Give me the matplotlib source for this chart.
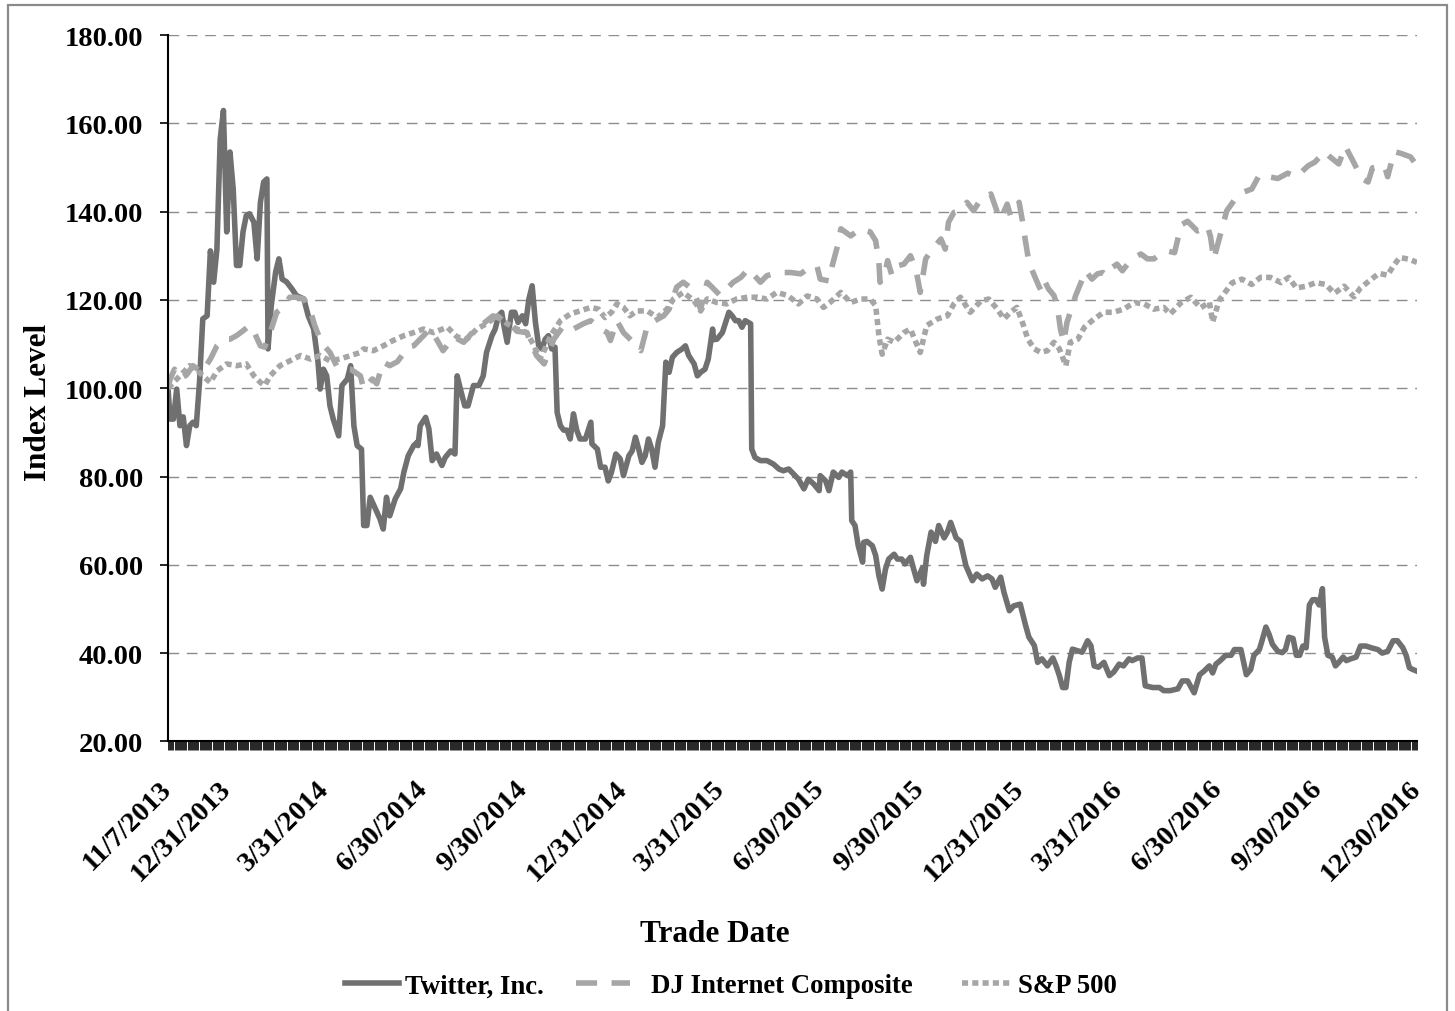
import matplotlib
matplotlib.use("Agg")
import matplotlib.pyplot as plt
from matplotlib.patches import Rectangle
import pandas as pd

# ---- data (index level, 11/7/2013 = 100); x given as calendar days since 11/7/2013
start = pd.Timestamp("2013-11-07")
end = pd.Timestamp("2016-12-30")

tick_dates = ["2013-11-07", "2013-12-31", "2014-03-31", "2014-06-30", "2014-09-30",
              "2014-12-31", "2015-03-31", "2015-06-30", "2015-09-30", "2015-12-31",
              "2016-03-31", "2016-06-30", "2016-09-30", "2016-12-30"]

twitter_day = [0, 2, 5, 8, 11, 14, 17, 20, 23, 26, 29, 32, 36, 39, 42, 45, 48, 51, 54, 57,
               60, 63, 66, 69, 72, 75, 79, 82, 85, 88, 91, 92, 95, 99, 102, 105, 109, 114, 118, 125,
               129, 134, 138, 140, 143, 146, 149, 152, 157, 160, 165, 168, 171, 174, 178, 180, 183, 186, 191, 195,
               198, 201, 204, 209, 214, 217, 221, 226, 229, 230, 232, 237, 240, 243, 247, 252, 255, 260, 264, 266,
               269, 273, 276, 281, 286, 290, 293, 298, 301, 304, 307, 309, 312, 316, 319, 322, 326, 329, 332, 335,
               338, 341, 344, 347, 350, 353, 356, 358, 361, 364, 367, 370, 373, 376, 379, 384, 389, 390, 395, 398,
               402, 405, 408, 412, 416, 419, 424, 427, 430, 433, 436, 439, 442, 445, 448, 451, 455, 458, 461, 464,
               468, 473, 476, 479, 484, 487, 490, 494, 497, 501, 502, 505, 510, 513, 516, 519, 522, 525, 528, 531,
               536, 537, 540, 545, 551, 557, 562, 566, 571, 580, 585, 589, 594, 599, 600, 605, 608, 612, 617, 620,
               625, 628, 629, 632, 635, 639, 640, 643, 648, 651, 654, 657, 660, 663, 668, 671, 675, 678, 683, 686,
               689, 694, 695, 698, 702, 706, 709, 714, 717, 720, 725, 729, 734, 740, 744, 749, 754, 758, 761, 766,
               769, 774, 778, 784, 789, 792, 797, 800, 804, 809, 814, 817, 820, 823, 826, 829, 832, 837, 841, 846,
               849, 852, 856, 861, 866, 870, 875, 879, 884, 887, 892, 896, 899, 906, 912, 916, 922, 929, 933, 938,
               944, 949, 953, 958, 961, 964, 968, 973, 978, 981, 987, 992, 996, 999, 1004, 1007, 1010, 1013, 1016, 1021,
               1025, 1028, 1031, 1035, 1038, 1041, 1044, 1047, 1050, 1053, 1056, 1059, 1062, 1064, 1067, 1071, 1074, 1077, 1081, 1084,
               1088, 1093, 1097, 1102, 1107, 1113, 1117, 1122, 1127, 1131, 1136, 1139, 1142, 1145, 1149]
twitter_val = [100.0, 93.0, 93.0, 99.8, 91.5, 93.5, 87.0, 91.5, 92.3, 91.5, 101.4, 115.7, 116.4, 131.1, 124.0, 131.5, 156.4, 162.9, 135.4, 153.5,
               145.1, 127.8, 127.8, 135.4, 139.1, 139.5, 137.6, 129.3, 142.1, 146.7, 147.4, 108.9, 118.7, 126.3, 129.3, 124.7, 124.1, 122.5, 121.0, 120.2,
               116.4, 113.4, 105.9, 99.8, 104.3, 102.8, 96.0, 93.0, 89.2, 100.6, 102.1, 105.1, 91.5, 87.0, 86.2, 68.9, 68.9, 75.3, 72.6, 70.4,
               68.1, 75.3, 71.1, 74.9, 77.2, 81.0, 84.7, 87.0, 87.7, 87.0, 91.5, 93.4, 90.8, 83.6, 85.1, 82.5, 84.3, 85.8, 85.1, 102.8,
               99.8, 96.0, 96.0, 100.6, 100.6, 102.8, 108.1, 111.9, 113.4, 116.4, 117.2, 114.2, 110.4, 117.2, 117.2, 114.9, 116.4, 114.6, 120.2, 123.2,
               114.9, 109.6, 108.9, 111.1, 111.9, 108.9, 109.3, 94.5, 91.5, 90.5, 90.5, 88.5, 94.2, 90.5, 88.5, 88.5, 92.3, 87.4, 86.2, 82.1,
               82.1, 79.0, 81.0, 85.1, 84.0, 80.2, 84.7, 85.8, 88.9, 86.2, 83.2, 84.7, 88.5, 86.2, 82.1, 87.7, 91.5, 105.9, 103.6, 107.0,
               108.1, 108.9, 109.6, 107.4, 105.5, 102.8, 103.6, 104.3, 106.6, 113.4, 111.0, 111.1, 112.6, 114.9, 117.2, 116.4, 115.3, 115.3, 113.8, 115.3,
               114.6, 86.2, 84.3, 83.6, 83.6, 82.8, 81.7, 81.3, 81.7, 79.4, 77.2, 79.4, 78.3, 76.8, 80.2, 79.0, 76.8, 81.0, 79.8, 81.0,
               80.2, 81.0, 70.0, 68.9, 64.3, 60.6, 65.1, 65.3, 64.3, 62.1, 57.5, 54.5, 59.0, 61.3, 62.4, 61.3, 61.3, 60.2, 61.7, 59.0,
               56.4, 59.3, 55.6, 62.1, 67.4, 65.3, 68.9, 66.1, 67.4, 69.6, 66.1, 65.3, 59.8, 56.4, 57.9, 56.8, 57.5, 56.8, 54.9, 57.2,
               53.8, 49.6, 50.7, 51.1, 46.2, 43.6, 41.7, 37.9, 38.7, 37.1, 38.9, 37.1, 34.9, 32.2, 32.2, 37.9, 40.9, 40.5, 40.2, 42.8,
               41.7, 37.1, 36.8, 37.9, 34.9, 35.7, 37.5, 37.1, 38.7, 38.3, 38.9, 38.9, 32.6, 32.2, 32.2, 31.5, 31.5, 31.9, 33.7, 33.7,
               31.0, 35.1, 35.9, 37.1, 35.5, 37.5, 38.3, 39.5, 39.5, 40.8, 40.8, 35.1, 36.3, 39.5, 40.8, 43.3, 45.9, 44.2, 42.0, 40.4,
               40.1, 40.8, 43.6, 43.3, 39.5, 39.5, 41.6, 41.2, 50.9, 52.1, 52.1, 50.9, 54.6, 43.6, 39.5, 39.1, 37.1, 37.9, 39.1, 38.3,
               38.7, 39.1, 41.6, 41.6, 41.2, 40.8, 40.0, 40.4, 42.8, 42.8, 41.2, 39.5, 36.7, 36.3, 35.9]

dj_day = [0, 2, 6, 11, 17, 23, 31, 39, 45, 51, 57, 63, 69, 75, 80, 85, 89, 94, 100, 106,
          112, 118, 125, 131, 135, 141, 149, 155, 160, 168, 177, 180, 188, 192, 198, 204, 211, 221, 226, 235,
          241, 247, 253, 263, 272, 281, 290, 299, 306, 312, 321, 330, 339, 346, 355, 364, 373, 382, 389, 398,
          404, 407, 413, 419, 428, 435, 441, 448, 456, 461, 468, 474, 482, 485, 490, 496, 502, 508, 514, 520,
          527, 534, 545, 551, 557, 566, 573, 582, 588, 597, 600, 608, 611, 616, 619, 628, 637, 646, 651, 654,
          655, 659, 662, 666, 671, 677, 683, 688, 692, 697, 702, 711, 715, 718, 723, 729, 735, 741, 748, 754,
          757, 763, 766, 772, 775, 783, 786, 789, 792, 797, 801, 804, 807, 810, 815, 818, 821, 824, 827, 830,
          835, 840, 844, 850, 855, 860, 864, 869, 873, 878, 884, 889, 895, 901, 907, 913, 919, 926, 932, 938,
          947, 952, 956, 959, 962, 970, 974, 981, 988, 997, 1004, 1021, 1030, 1038, 1049, 1055, 1064, 1069, 1077, 1083,
          1089, 1095, 1098, 1104, 1108, 1119, 1122, 1128, 1134, 1143, 1149]
dj_val = [100.0, 102.1, 104.3, 102.1, 103.0, 105.1, 103.6, 106.6, 109.6, 111.1, 111.1, 111.9, 113.0, 114.2, 112.3, 109.6, 109.3, 112.6, 117.2, 118.3,
          120.6, 120.6, 120.2, 117.5, 114.2, 110.4, 108.1, 105.1, 104.3, 104.3, 102.8, 99.8, 102.1, 101.0, 105.9, 105.1, 106.0, 109.3, 109.6, 111.9,
          113.4, 111.1, 108.5, 111.6, 110.4, 112.9, 114.6, 116.4, 115.7, 115.3, 112.9, 112.6, 107.4, 105.5, 111.1, 114.2, 113.4, 114.6, 115.3, 113.4,
          112.6, 110.8, 115.3, 112.6, 110.4, 108.5, 114.2, 115.3, 116.4, 117.9, 122.9, 124.0, 122.5, 121.0, 117.9, 124.0, 122.5, 121.0, 122.5, 124.0,
          125.1, 127.0, 124.0, 125.5, 125.9, 126.2, 126.2, 125.9, 127.0, 127.7, 124.7, 124.3, 127.7, 132.3, 136.1, 134.5, 136.1, 135.4, 133.4, 128.5,
          124.0, 125.5, 128.9, 125.5, 127.7, 128.1, 130.0, 127.0, 121.7, 129.3, 131.1, 133.8, 131.5, 137.6, 139.8, 140.2, 142.1, 140.2, 142.9, 143.6,
          144.0, 139.8, 138.3, 141.7, 139.1, 142.1, 137.9, 133.0, 128.5, 125.5, 123.2, 121.7, 124.0, 122.5, 121.0, 118.7, 113.4, 110.4, 114.9, 117.2,
          121.0, 124.0, 126.6, 124.7, 125.9, 126.2, 125.5, 127.4, 128.1, 126.6, 128.5, 129.6, 130.4, 129.3, 129.3, 130.4, 131.1, 130.7, 137.0, 137.8,
          135.6, 136.0, 136.8, 134.4, 129.2, 136.5, 140.2, 142.6, 144.3, 145.1, 148.3, 147.5, 148.7, 147.9, 150.4, 151.2, 153.6, 152.4, 150.8, 154.8,
          152.0, 149.1, 147.5, 146.7, 149.9, 150.4, 147.9, 153.6, 153.2, 152.4, 150.4]

sp_day = [0, 11, 20, 26, 32, 39, 45, 54, 63, 72, 79, 85, 89, 94, 103, 112, 122, 131, 140, 149,
          158, 168, 177, 180, 189, 198, 207, 217, 226, 235, 244, 257, 266, 275, 284, 293, 303, 312, 321, 330,
          336, 342, 347, 352, 361, 370, 379, 389, 396, 402, 408, 413, 419, 425, 431, 441, 450, 459, 465, 474,
          484, 490, 496, 505, 514, 523, 533, 542, 551, 560, 570, 580, 588, 597, 603, 609, 619, 628, 637, 646,
          651, 654, 657, 662, 668, 677, 683, 688, 692, 698, 708, 717, 723, 729, 738, 748, 755, 763, 769, 775,
          781, 787, 791, 797, 803, 809, 815, 820, 826, 830, 837, 843, 852, 861, 870, 879, 889, 898, 907, 916,
          922, 932, 941, 950, 958, 961, 967, 973, 979, 988, 997, 1005, 1014, 1024, 1031, 1038, 1047, 1056, 1065, 1073,
          1082, 1091, 1097, 1105, 1114, 1122, 1127, 1133, 1142, 1149]
sp_val = [100.0, 102.8, 105.1, 104.3, 102.8, 101.3, 103.9, 105.5, 105.1, 105.5, 102.8, 101.3, 100.6, 102.8, 105.1, 106.2, 107.4, 106.6, 107.4, 106.2,
          106.6, 107.4, 108.1, 108.9, 108.5, 109.6, 110.8, 111.9, 112.6, 113.4, 112.6, 113.8, 111.6, 111.1, 113.4, 114.6, 116.4, 114.6, 113.4, 112.6,
          110.0, 106.6, 109.0, 111.9, 115.3, 116.8, 117.5, 118.3, 117.9, 116.0, 117.2, 119.1, 118.3, 116.4, 117.5, 117.5, 116.0, 117.9, 120.2, 121.7,
          119.8, 117.5, 120.2, 119.4, 119.1, 120.2, 120.6, 120.6, 120.2, 121.7, 121.0, 119.1, 120.9, 120.2, 118.3, 119.4, 121.7, 119.4, 120.2, 120.2,
          118.7, 111.9, 107.7, 111.1, 110.4, 112.6, 113.4, 110.4, 108.1, 114.2, 115.7, 116.4, 119.1, 120.6, 117.2, 119.8, 120.2, 117.9, 115.7, 117.2,
          118.3, 114.2, 111.1, 108.9, 108.1, 108.5, 110.4, 108.9, 105.1, 110.4, 111.1, 113.8, 115.7, 117.2, 117.2, 117.9, 119.4, 119.1, 117.9, 118.3,
          116.8, 119.4, 120.6, 118.2, 119.5, 115.0, 119.9, 121.9, 123.9, 124.7, 123.5, 125.1, 125.1, 123.9, 125.1, 122.7, 123.1, 123.9, 123.5, 121.5,
          123.1, 120.7, 122.7, 124.3, 126.0, 125.6, 127.6, 129.6, 129.2, 128.5]

series = [
    ("Twitter, Inc.", twitter_day, twitter_val, "#707070", "-"),
    ("DJ Internet Composite", dj_day, dj_val, "#a6a6a6", (0, (3.8, 2.6))),
    ("S&P 500", sp_day, sp_val, "#a6a6a6", (0, (1.1, 0.75))),
]

plt.rcParams["font.family"] = ["Liberation Serif", "DejaVu Serif"]
plt.rcParams["font.weight"] = "bold"

W, H = 1455, 1012
fig = plt.figure(figsize=(W / 100, H / 100), dpi=100)
ax = fig.add_axes([168 / W, 1 - 742.4 / H, (1417 - 168) / W, (742.4 - 36) / H])

handles = []
for name, days, vals, color, ls in series:
    dates = start + pd.to_timedelta(days, unit="D")
    line, = ax.plot(dates, vals, color=color, lw=4.0, linestyle=ls,
                    dash_capstyle="butt", solid_joinstyle="round", label=name)
    handles.append(line)

ax.set_xlim(start, end)
ax.set_ylim(20, 180)
ax.set_yticks(range(20, 181, 20))
ax.set_yticklabels([f"{v:.2f}" for v in range(20, 181, 20)])
ax.yaxis.grid(True, linestyle=(0, (7.7, 5.5)), color="#8c8c8c", lw=1.0)
ax.set_axisbelow(True)

ticks = pd.to_datetime(tick_dates)
ax.set_xticks(ticks)
ax.set_xticklabels([f"{d.month}/{d.day}/{d.year}" for d in ticks],
                   rotation=45, ha="right", va="center", rotation_mode="anchor")
# one small tick per calendar day gives the dense dark band under the axis
ax.set_xticks(pd.date_range(start, end, freq="D"), minor=True)

ax.tick_params(axis="y", direction="out", length=6, width=1.2, pad=12, labelsize=20.5, color="black")
ax.tick_params(axis="x", which="both", direction="out", length=6.3, width=0.6, color="black")
ax.tick_params(axis="x", which="major", pad=25, labelsize=20.5)

for s in ("top", "right"):
    ax.spines[s].set_visible(False)
for s in ("left", "bottom"):
    ax.spines[s].set_color("black")
    ax.spines[s].set_linewidth(1.5)

fig.text(39 / W, 1 - 402 / H, "Index Level", rotation=90, ha="center", va="center", fontsize=22.5)
fig.text(715 / W, 1 - 935 / H, "Trade Date", ha="center", va="center", fontsize=22.5)

# legend entries placed one by one, as in the original layout
legend_x = [345, 576, 962]
legend_hlen = [2.03, 2.0, 1.85]
legend_pad = [0.2, 0.8, 0.25]
for h, x0, hl, tp in zip(handles, legend_x, legend_hlen, legend_pad):
    fig.legend(handles=[h], loc="center left", bbox_to_anchor=(x0 / W, 1 - 987 / H),
               frameon=False, fontsize=19.3, handlelength=hl, handletextpad=tp,
               borderpad=0, borderaxespad=0)

fig.patches.append(Rectangle((8 / W, -0.05), (1447 - 8) / W, 1.05 - 6 / H, transform=fig.transFigure,
                             fill=False, edgecolor="#8a8a8a", lw=1.6))

fig.savefig("out.png", dpi=100)
